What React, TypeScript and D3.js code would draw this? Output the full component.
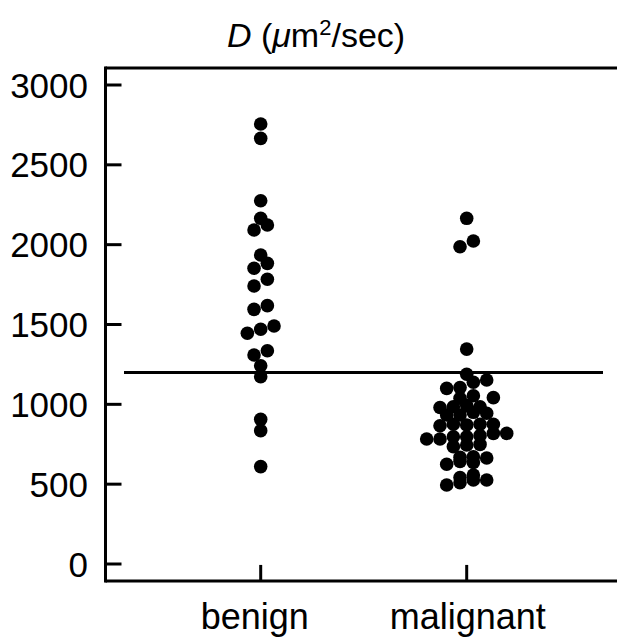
import React from "react";
import * as d3 from "d3";

const categories = ["benign", "malignant"];
const yTicks = [0, 500, 1000, 1500, 2000, 2500, 3000];
const cutoff = 1200;

// [value, lane] — lane is the beeswarm column offset (in dot half-widths)
const benign: [number, number][] = [
  [2756, 0], [2666, 0], [2275, 0], [2165, 0], [2123, 1], [2092, -1],
  [1935, 0], [1883, 1], [1852, -1], [1783, 1], [1741, -1], [1618, 1],
  [1595, -1], [1491, 2], [1470, 0], [1445, -2], [1336, 1], [1309, -1],
  [1242, 0], [1173, 0], [906, 0], [835, 0], [610, 0],
];

const malignant: [number, number][] = [
  [2165, 0], [2023, 1], [1987, -1], [1346, 0],
  [1188, 0], [1138, 1], [1152, 3], [1100, -3], [1105, -1], [1054, 1], [1038, -1], [1042, 4],
  [980, -4], [985, -2], [992, 0], [985, 2], [944, 3], [950, 1], [933, -3], [933, -1],
  [866, -4], [875, -2], [871, 0], [875, 2], [875, 4], [818, 4], [818, 6],
  [783, -6], [783, -4], [797, -2], [797, 0], [804, 2],
  [735, -2], [745, 0], [749, 2],
  [668, -1], [672, 1], [664, 3], [625, -3], [643, -1], [636, 1],
  [495, -3], [509, -1], [541, -1], [557, 1], [526, 1], [526, 3],
];

const groups = [benign, malignant];

export default function App() {
  const W = 617, H = 639;
  const y = d3.scaleLinear().domain([0, 3000]).range([564, 85]);
  const x = d3.scalePoint<string>().domain(categories).range([260.7, 466.7]);
  const laneW = 6.67;
  const r = 6.8;
  const font = "'Liberation Sans', Arial, Helvetica, sans-serif";
  const left = 105.5;
  const top = y(3106);
  const bottom = y(-106);
  const right = 622;
  const sw = 3;

  return (
    <svg width={W} height={H} style={{ position: "absolute", left: 0, top: 0 }} fontFamily={font}>
      <rect width={W} height={H} fill="#fff" />
      <text x={316} y={47} fontSize={34} textAnchor="middle" fill="#000">
        <tspan fontStyle="italic">D</tspan>
        <tspan> (</tspan>
        <tspan fontStyle="italic">μ</tspan>
        <tspan>m</tspan>
        <tspan fontSize={22} dy={-12}>2</tspan>
        <tspan dy={12}>/sec)</tspan>
      </text>
      {/* frame */}
      <line x1={left} x2={right} y1={top} y2={top} stroke="#000" strokeWidth={sw} />
      <line x1={left} x2={right} y1={bottom} y2={bottom} stroke="#000" strokeWidth={sw} />
      <line x1={left} x2={left} y1={top - sw / 2} y2={bottom + sw / 2} stroke="#000" strokeWidth={sw} />
      {yTicks.map((t) => (
        <g key={t}>
          <line x1={left} x2={left + 16} y1={y(t)} y2={y(t)} stroke="#000" strokeWidth={sw} />
          <text x={88} y={y(t)} dy="0.36em" fontSize={35} textAnchor="end" fill="#000">
            {t}
          </text>
        </g>
      ))}
      {categories.map((c, i) => (
        <g key={c}>
          <line x1={x(c)!} x2={x(c)!} y1={bottom} y2={bottom - 16} stroke="#000" strokeWidth={sw} />
          <text x={x(c)! + (i === 0 ? -6 : 1)} y={629} fontSize={36} textAnchor="middle" fill="#000">
            {c}
          </text>
        </g>
      ))}
      <line x1={124} x2={603} y1={y(cutoff)} y2={y(cutoff)} stroke="#000" strokeWidth={sw} />
      {groups.map((g, gi) =>
        g.map(([v, lane], i) => (
          <circle
            key={`${gi}-${i}`}
            cx={x(categories[gi])! + lane * laneW}
            cy={y(v)}
            r={r}
            fill="#000"
          />
        ))
      )}
    </svg>
  );
}
